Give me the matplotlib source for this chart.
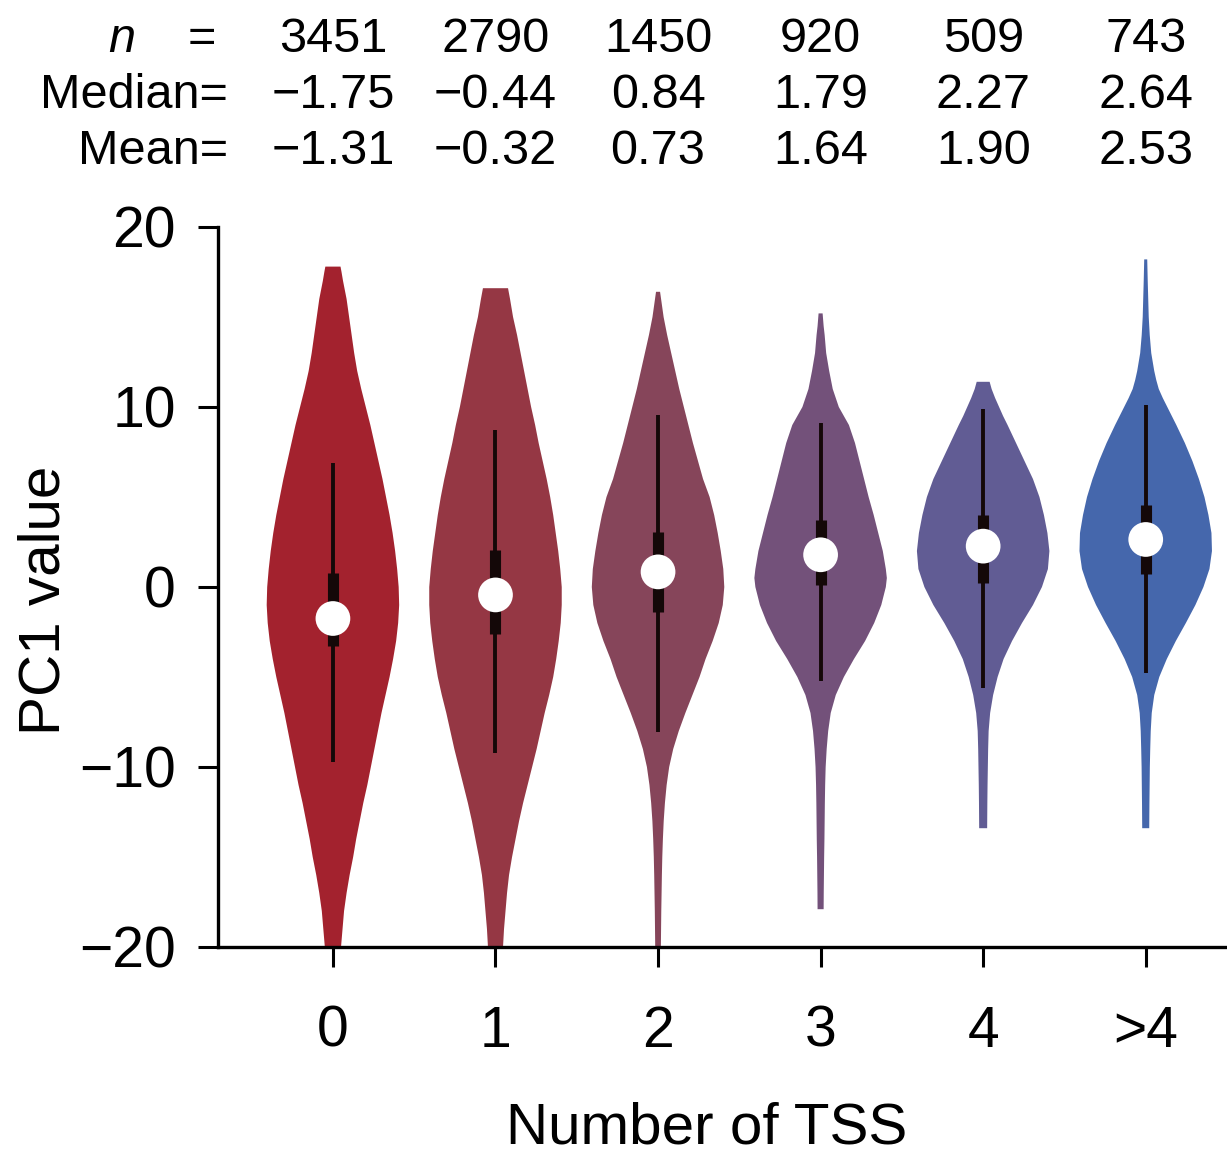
import matplotlib
matplotlib.use("Agg")
import matplotlib.pyplot as plt
import numpy as np

plt.rcParams['font.family'] = ['Liberation Sans', 'DejaVu Sans']

# ---------------- data ----------------
categories = ['0', '1', '2', '3', '4', '>4']
n_counts = [3451, 2790, 1450, 920, 509, 743]
medians = [-1.75, -0.44, 0.84, 1.79, 2.27, 2.64]
means = [-1.31, -0.32, 0.73, 1.64, 1.90, 2.53]
q1 = [-3.3, -2.6, -1.4, 0.1, 0.2, 0.7]
q3 = [0.8, 2.05, 3.05, 3.7, 4.0, 4.55]
whisk_lo = [-9.7, -9.2, -8.05, -5.2, -5.6, -4.8]
whisk_hi = [6.9, 8.7, 9.55, 9.1, 9.9, 10.1]

# violin outlines: PC1 value and relative density (half width)
v0_y = [17.8, 17.5, 17, 16, 15, 14, 13, 12, 11, 10, 9, 8, 7, 6, 5, 4, 3, 2, 1, 0,
        -1, -2, -3, -4, -5, -6, -7, -8, -9, -10, -11, -12, -13, -14, -15, -16, -17,
        -18, -19, -20, -21, -22]
v0_d = [7.5, 8.5, 10, 13.5, 16, 18.5, 21, 24, 28, 32.5, 37, 41, 45, 49, 52.5, 56, 59,
        61.5, 63.5, 65, 65.5, 64.5, 62.5, 59.5, 56, 52, 48, 44.5, 41, 37.5, 34, 30,
        26.5, 23, 20, 16.5, 13.5, 11, 9.5, 8, 6.5, 5]
v1_y = [16.6, 16, 15, 14, 13, 12, 11, 10, 9, 8, 7, 6, 5, 4, 3, 2, 1, 0, -1, -2, -3,
        -4, -5, -6, -7, -8, -9, -10, -11, -12, -13, -14, -15, -16, -17, -18, -19,
        -20, -22]
v1_d = [12.5, 14.5, 17.5, 21.5, 25, 28.5, 32, 35.5, 39.5, 43, 47, 51, 54.5, 57.5, 60,
        62.5, 64.5, 66, 66, 65, 63, 60.5, 57.5, 53.5, 49, 45, 41, 36.5, 32, 27.5,
        23.5, 20, 16.5, 13.5, 11.5, 10, 8.5, 7.5, 5]
v2_y = [16.4, 16, 15, 14, 13, 12, 11, 10, 9, 8, 7, 6, 5, 4, 3, 2, 1, 0, -1, -2, -3,
        -4, -5, -6, -7, -8, -9, -10, -11, -12, -13, -14, -15, -16, -17, -18, -19,
        -20, -21]
v2_d = [2, 3, 5.5, 9, 13, 17, 21, 25.5, 30, 34.5, 39.5, 44.5, 51, 55.5, 59, 62, 64.5,
        65.5, 64, 60, 54, 47, 41, 34, 27, 20.5, 15, 11, 8.5, 6.8, 5.6, 4.8, 4.2, 3.8,
        3.5, 3.2, 3.0, 2.8, 2.2]
v3_y = [15.2, 14.5, 14, 13, 12, 11, 10, 9.5, 9, 8, 7, 6, 5, 4, 3, 2, 1, 0.5, 0, -1,
        -2, -3, -4, -5, -6, -7, -8, -9, -10, -11, -12, -13, -14, -15, -16, -17, -17.9]
v3_d = [2, 3, 4, 5.5, 8.5, 12, 18, 23, 28, 34, 38.5, 43, 47.5, 52.5, 57, 61.5, 64.5,
        65.5, 64.5, 60, 53, 44, 33, 23, 15, 10, 7.5, 6, 5, 4.5, 4.2, 4, 3.8, 3.5,
        3.3, 3.1, 3]
v4_y = [11.4, 11, 10.5, 10, 9.5, 9, 8, 7, 6, 5, 4, 3, 2, 1, 0, -1, -2, -3, -4, -5,
        -6, -7, -8, -9, -10, -11, -12, -13.4]
v4_d = [6.5, 8.5, 12, 16, 20, 24.5, 33, 41.5, 50, 56.5, 61, 64.5, 66.5, 65, 59, 50,
        39, 29, 20.5, 14.5, 10, 7, 5.5, 5, 4.7, 4.4, 4.2, 4]
v5_y = [18.2, 17, 16, 15, 14, 13, 12.5, 12, 11.5, 11, 10.5, 10, 9.5, 9, 8, 7, 6, 5,
        4, 3, 2, 1, 0, -1, -2, -3, -4, -5, -6, -7, -8, -9, -10, -11, -12, -13.4]
v5_d = [1.5, 2, 2.5, 3, 4, 5.5, 7, 8.5, 10.5, 13, 17, 21.5, 26, 30.5, 39, 46.5, 53,
        58.5, 62.5, 65.5, 66, 63.5, 57.5, 49.5, 40, 30, 21, 13.5, 8.5, 6, 5, 4.5,
        4.1, 3.9, 3.7, 3.5]

colors = ['#A3222E', '#953744', '#86455A', '#73517A', '#615C94', '#4567AC']

# ---------------- figure ----------------
W, H = 1227, 1159
fig = plt.figure(figsize=(W / 100, H / 100), dpi=100)
ax = fig.add_axes([218 / W, 1 - 947 / H, (1227 - 218) / W, (947 - 227) / H])

positions = np.arange(len(categories))
profiles = [(v0_y, v0_d), (v1_y, v1_d), (v2_y, v2_d), (v3_y, v3_d), (v4_y, v4_d), (v5_y, v5_d)]
vpstats = []
for i, (yy, dd) in enumerate(profiles):
    vpstats.append(dict(coords=np.array(yy, float), vals=np.array(dd, float),
                        mean=means[i], median=medians[i], min=min(yy), max=max(yy)))

parts = ax.violin(vpstats, positions=positions, widths=0.815,
                  showmeans=False, showextrema=False, showmedians=False)
for body, c in zip(parts['bodies'], colors):
    body.set_facecolor(c)
    body.set_edgecolor('none')
    body.set_alpha(1)

ax.vlines(positions, whisk_lo, whisk_hi, colors='#140808', lw=2.8, zorder=3)
ax.vlines(positions, q1, q3, colors='#140808', lw=8, zorder=3)
ax.scatter(positions, medians, s=25 ** 2, c='white', edgecolors='none', zorder=4)

ax.set_xlim(-0.707, 5.5)
ax.set_ylim(-20, 20)
ax.set_yticks([-20, -10, 0, 10, 20])
ax.set_xticks(positions)
ax.set_xticklabels(categories)
for s in ['top', 'right']:
    ax.spines[s].set_visible(False)
for s in ['left', 'bottom']:
    ax.spines[s].set_linewidth(2.4)
ax.tick_params(axis='both', length=14.5, width=2.2, labelsize=41)
ax.tick_params(axis='x', pad=27)
ax.tick_params(axis='y', pad=16)

fig.text(45 / W, 1 - 600 / H, 'PC1 value', rotation=90, ha='center', va='center', fontsize=42)
fig.text(707 / W, 1 - 1144 / H, 'Number of TSS', ha='center', va='baseline', fontsize=42)

# ---------------- summary table on top ----------------
tfs = 35
row_base = [52, 108, 164]
fig.text(122 / W, 1 - row_base[0] / H, 'n', style='italic', ha='center', va='baseline', fontsize=tfs)
fig.text(202 / W, 1 - row_base[0] / H, '=', ha='center', va='baseline', fontsize=tfs)
fig.text(228 / W, 1 - row_base[1] / H, 'Median=', ha='right', va='baseline', fontsize=tfs)
fig.text(228 / W, 1 - row_base[2] / H, 'Mean=', ha='right', va='baseline', fontsize=tfs)


def fmt(v):
    return f"{v:.2f}".replace('-', '\u2212')


for i, p in enumerate(positions):
    xf = ax.transData.transform((p, 0))[0]
    xfig = fig.transFigure.inverted().transform((xf, 0))[0]
    fig.text(xfig, 1 - row_base[0] / H, str(n_counts[i]), ha='center', va='baseline', fontsize=tfs)
    fig.text(xfig, 1 - row_base[1] / H, fmt(medians[i]), ha='center', va='baseline', fontsize=tfs)
    fig.text(xfig, 1 - row_base[2] / H, fmt(means[i]), ha='center', va='baseline', fontsize=tfs)

fig.savefig('out.png', dpi=100)
